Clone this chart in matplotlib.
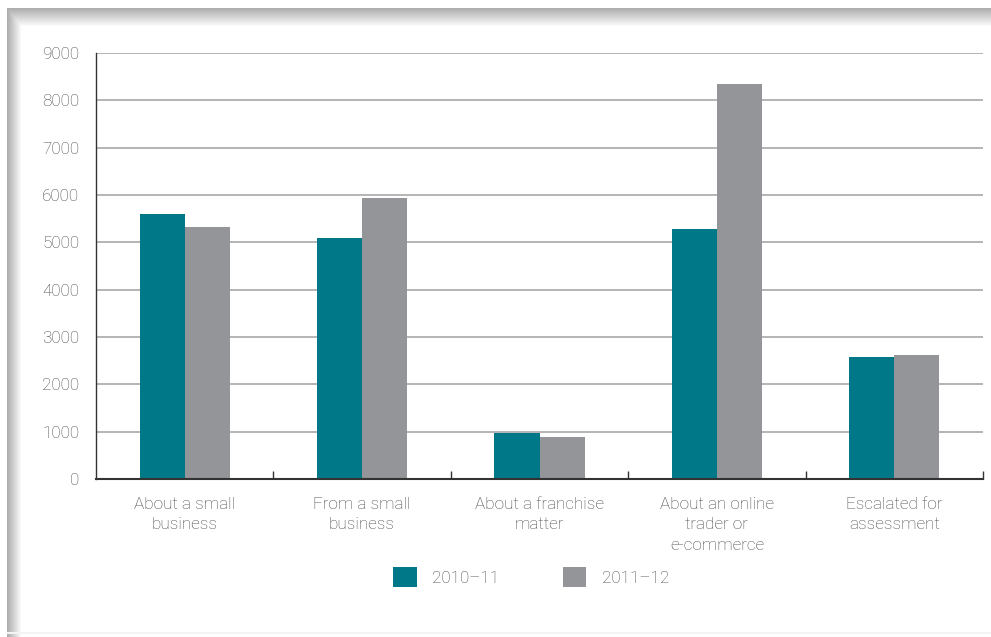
import numpy as np
import matplotlib
matplotlib.use("Agg")
import matplotlib.pyplot as plt
from matplotlib.patches import Patch

categories = ["About a small\nbusiness", "From a small\nbusiness", "About a franchise\nmatter",
              "About an online\ntrader or\ne-commerce", "Escalated for\nassessment"]
series_names = ["2010\u201311", "2011\u201312"]
values_2010 = [5600, 5090, 970, 5280, 2580]
values_2011 = [5320, 5940, 890, 8345, 2620]
yticks = [0, 1000, 2000, 3000, 4000, 5000, 6000, 7000, 8000, 9000]

TEAL = "#007888"
GREY = "#939598"
TXT = "#484848"

W, H = 991, 637
fig = plt.figure(figsize=(W / 100, H / 100), dpi=100)

# card shadow background
img = np.ones((H, W, 3))
yy = np.arange(H)[:, None]
xx = np.arange(W)[None, :]
top = np.clip((yy - 8) / 18.0, 0, 1)
left = np.clip((xx - 7) / 14.0, 0, 1)
shade = np.minimum(top, left)
dark = 0.68
val = dark + (1 - dark) * shade
val = np.where((yy < 8) | (xx < 7), 1.0, val)
val = np.where((yy >= 632) & (yy <= 633) & (xx >= 7), 0.96, val)
img[:] = val[:, :, None]
fig.figimage(img, xo=0, yo=0, origin="upper", zorder=-10)

plt.rcParams["font.family"] = ["Roboto", "DejaVu Sans"]
plt.rcParams["font.weight"] = "light"
FS = 12.3

ax = fig.add_axes([96 / W, 1 - 479 / H, (983 - 96) / W, (479 - 53) / H])
ax.set_facecolor("none")
x = np.arange(len(categories))
bw = 0.254
ax.bar(x - bw / 2, values_2010, bw, color=TEAL, zorder=3, label=series_names[0])
ax.bar(x + bw / 2, values_2011, bw, color=GREY, zorder=3, label=series_names[1])

ax.set_xlim(-0.5, 4.5)
ax.set_ylim(0, 9000)
ax.set_yticks(yticks)
ax.set_yticklabels([str(v) for v in yticks], fontweight="light")
ax.yaxis.grid(True, color="#b4b4b4", linewidth=1.4, zorder=0)
ax.set_axisbelow(True)
ax.tick_params(axis="y", length=0, pad=12, labelsize=FS, labelcolor=TXT)

ax.set_xticks(x)
ax.set_xticklabels(categories, fontsize=FS, color=TXT, linespacing=1.45, fontweight="light")
ax.tick_params(axis="x", which="major", length=0, pad=13)
ax.set_xticks(np.arange(0.5, 5, 1), minor=True)
ax.tick_params(axis="x", which="minor", direction="in", length=6, width=1, color="#333333")

for s in ["top", "right"]:
    ax.spines[s].set_visible(False)
ax.spines["left"].set_color("#333333")
ax.spines["left"].set_linewidth(1.0)
ax.spines["bottom"].set_color("#333333")
ax.spines["bottom"].set_linewidth(1.5)
ax.spines["bottom"].set_zorder(4)

handles = [Patch(facecolor=TEAL, label=series_names[0]),
           Patch(facecolor=GREY, label=series_names[1])]
fig.legend(handles=handles, loc="center", bbox_to_anchor=(531 / W, 1 - 577 / H), ncol=2,
           frameon=False, prop={"size": FS, "weight": "light"}, labelcolor=TXT,
           handlelength=1.4, handleheight=1.4, handletextpad=0.9, columnspacing=3.7)

fig.savefig("out.png", dpi=100)
